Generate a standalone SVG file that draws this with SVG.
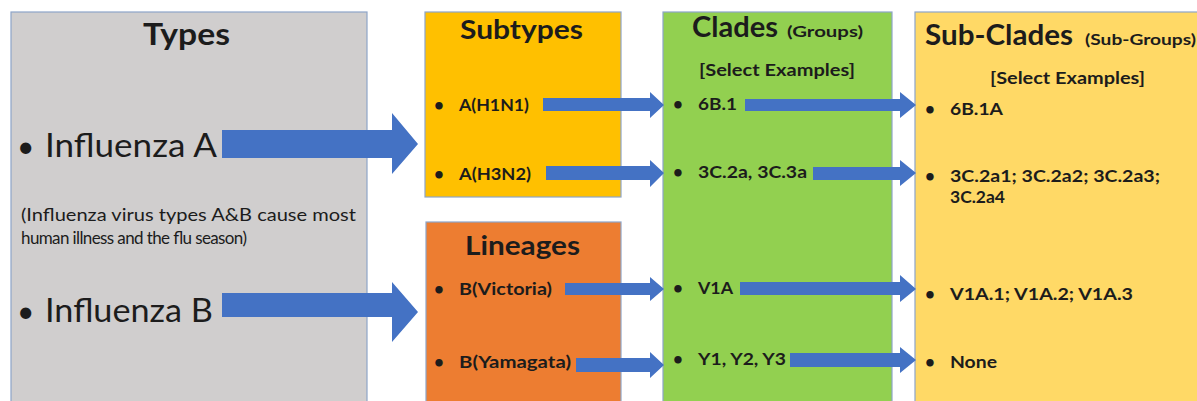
<svg xmlns="http://www.w3.org/2000/svg" width="1197" height="401" viewBox="0 0 1197 401">
<style>
  .box { stroke: #8ea5c8; stroke-width: 1.2; }
  .t { font-family: Lato, "Liberation Sans", sans-serif; fill: #1c1c1c; }
  .h { font-weight: bold; }
  .item { font-weight: bold; font-size: 17px; }
  .arr { fill: #4472c4; }
</style>
<rect width="1197" height="401" fill="#ffffff"/>
<g id="types">
  <rect class="box" x="11" y="12" width="356" height="395" fill="#d0cece"/>
  <text class="t h" x="143" y="45" font-size="30" textLength="87" lengthAdjust="spacingAndGlyphs">Types</text>
  <text class="t" x="17" y="157" font-size="30">•</text>
  <text class="t" x="45" y="157" font-size="33" textLength="172" lengthAdjust="spacingAndGlyphs">Influenza  A</text>
  <text class="t" x="21" y="221" font-size="17" textLength="335" lengthAdjust="spacingAndGlyphs">(Influenza virus types A&amp;B cause most</text>
  <text class="t" x="21" y="244" font-size="17" textLength="226" lengthAdjust="spacing">human illness and the flu season)</text>
  <text class="t" x="17" y="322" font-size="30">•</text>
  <text class="t" x="45" y="322" font-size="33" textLength="168" lengthAdjust="spacingAndGlyphs">Influenza  B</text>
</g>
<g id="subtypes">
  <rect class="box" x="425" y="12" width="196" height="185" fill="#ffc000" stroke="#a6a6a6"/>
  <text class="t h" x="460" y="39" font-size="26" textLength="123" lengthAdjust="spacingAndGlyphs">Subtypes</text>
  <text class="t item" x="434" y="111">•</text><text class="t item" x="459" y="111" textLength="70" lengthAdjust="spacingAndGlyphs">A(H1N1)</text>
  <text class="t item" x="434" y="180">•</text><text class="t item" x="459" y="180" textLength="72" lengthAdjust="spacingAndGlyphs">A(H3N2)</text>
</g>
<g id="lineages">
  <rect class="box" x="426" y="222" width="195" height="185" fill="#ed7d31" stroke="#a6a6a6"/>
  <text class="t h" x="465" y="255" font-size="27" textLength="115" lengthAdjust="spacingAndGlyphs">Lineages</text>
  <text class="t item" x="434" y="295">•</text><text class="t item" x="459" y="295" textLength="93" lengthAdjust="spacingAndGlyphs">B(Victoria)</text>
  <text class="t item" x="434" y="368">•</text><text class="t item" x="459" y="368" textLength="112" lengthAdjust="spacingAndGlyphs">B(Yamagata)</text>
</g>
<g id="clades">
  <rect class="box" x="663" y="12" width="229" height="395" fill="#92d050"/>
  <text class="t h" x="692" y="37" font-size="28" textLength="86" lengthAdjust="spacingAndGlyphs">Clades</text>
  <text class="t h" x="787" y="37" font-size="16" textLength="76" lengthAdjust="spacingAndGlyphs">(Groups)</text>
  <text class="t h" x="699" y="76" font-size="17" textLength="156" lengthAdjust="spacingAndGlyphs">[Select Examples]</text>
  <text class="t item" x="673" y="110">•</text><text class="t item" x="698" y="110" textLength="39" lengthAdjust="spacingAndGlyphs">6B.1</text>
  <text class="t item" x="673" y="178">•</text><text class="t item" x="698" y="178" textLength="109" lengthAdjust="spacingAndGlyphs">3C.2a, 3C.3a</text>
  <text class="t item" x="673" y="294">•</text><text class="t item" x="698" y="294" textLength="35" lengthAdjust="spacingAndGlyphs">V1A</text>
  <text class="t item" x="673" y="365">•</text><text class="t item" x="698" y="365" textLength="88" lengthAdjust="spacingAndGlyphs">Y1, Y2, Y3</text>
</g>
<g id="subclades">
  <rect class="box" x="915" y="12" width="290" height="395" fill="#ffd966"/>
  <text class="t h" x="925" y="45" font-size="28" textLength="148" lengthAdjust="spacingAndGlyphs">Sub-Clades</text>
  <text class="t h" x="1085" y="45" font-size="16" textLength="111" lengthAdjust="spacingAndGlyphs">(Sub-Groups)</text>
  <text class="t h" x="990" y="84" font-size="17" textLength="155" lengthAdjust="spacingAndGlyphs">[Select Examples]</text>
  <text class="t item" x="925" y="115">•</text><text class="t item" x="950" y="115" textLength="53" lengthAdjust="spacingAndGlyphs">6B.1A</text>
  <text class="t item" x="925" y="182">•</text><text class="t item" x="950" y="182" textLength="210" lengthAdjust="spacingAndGlyphs">3C.2a1; 3C.2a2; 3C.2a3;</text>
  <text class="t item" x="950" y="203" textLength="55" lengthAdjust="spacingAndGlyphs">3C.2a4</text>
  <text class="t item" x="925" y="300">•</text><text class="t item" x="950" y="300" textLength="183" lengthAdjust="spacingAndGlyphs">V1A.1; V1A.2; V1A.3</text>
  <text class="t item" x="925" y="368">•</text><text class="t item" x="950" y="368" textLength="47" lengthAdjust="spacingAndGlyphs">None</text>
</g>
<g id="connectors">
  <polygon class="arr" points="222,130 392,130 392,113 418,144 392,174 392,158 222,158"/>
  <polygon class="arr" points="222,293 392,293 392,282 418,312 392,342 392,317 222,317"/>
  <polygon class="arr" points="543,98 650,98 650,92 664,105 650,118 650,111 543,111"/>
  <polygon class="arr" points="546,166 650,166 650,160 664,173 650,187 650,180 546,180"/>
  <polygon class="arr" points="565,283 650,283 650,277 664,289 650,301 650,295 565,295"/>
  <polygon class="arr" points="576,358 650,358 650,352 664,365 650,378 650,372 576,372"/>
  <polygon class="arr" points="745,99 900,99 900,92 916,105 900,118 900,111 745,111"/>
  <polygon class="arr" points="813,167 900,167 900,160 916,173 900,186 900,180 813,180"/>
  <polygon class="arr" points="740,282 900,282 900,275 916,289 900,302 900,295 740,295"/>
  <polygon class="arr" points="790,353 900,353 900,347 916,360 900,373 900,367 790,367"/>
</g>
</svg>
